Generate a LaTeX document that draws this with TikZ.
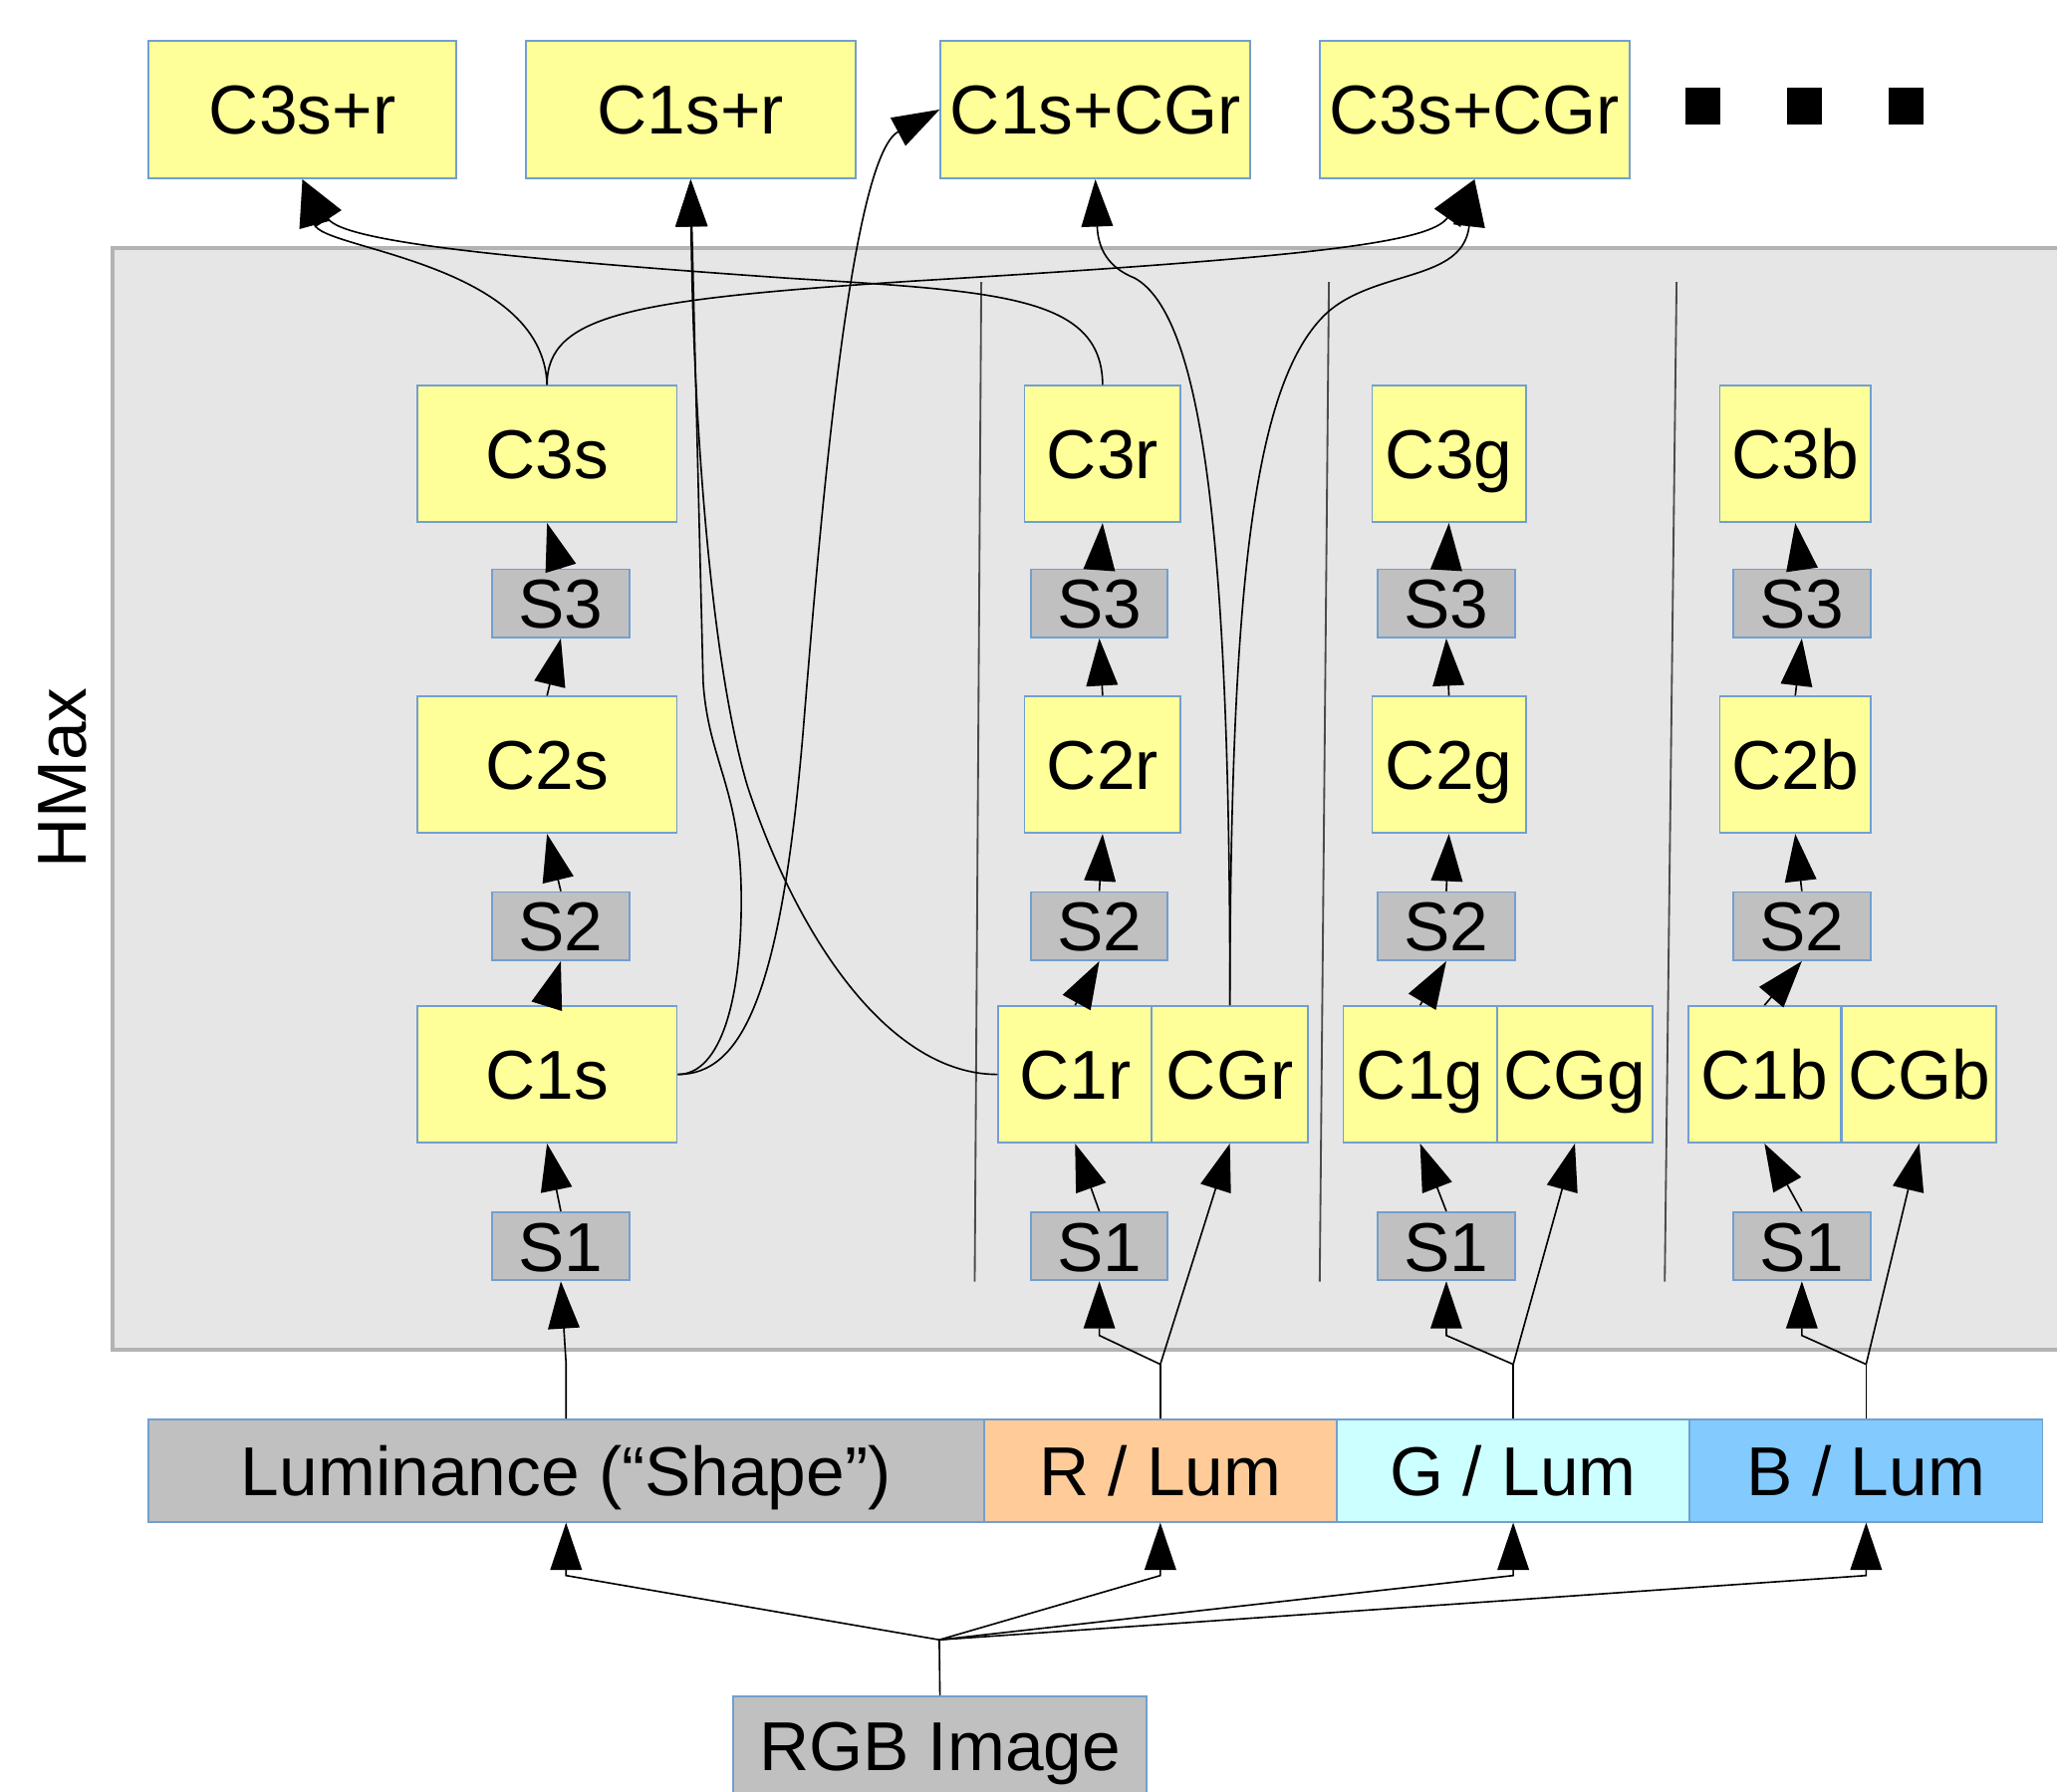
\documentclass[tikz,border=0pt]{standalone}
\usepackage{fontspec}
\setmainfont{Liberation Sans}
\usetikzlibrary{arrows.meta}

\definecolor{boxyellow}{HTML}{FFFF99}
\definecolor{boxgray}{HTML}{C0C0C0}
\definecolor{boxedge}{HTML}{729FCF}
\definecolor{panelfill}{HTML}{E6E6E6}
\definecolor{paneledge}{HTML}{B3B3B3}
\definecolor{lumR}{HTML}{FFCC99}
\definecolor{lumG}{HTML}{CCFFFF}
\definecolor{lumB}{HTML}{83CAFF}

\tikzset{
  lbl/.style={font=\fontsize{15}{18}\selectfont, text height=10.8pt, text depth=0pt},
  cbox/.style={draw=boxedge, line width=0.4pt, fill=boxyellow, inner sep=0pt, lbl},
  sbox/.style={draw=boxedge, line width=0.4pt, fill=boxgray, inner sep=0pt, lbl},
  link/.style={line width=0.35pt, -{Triangle[length=0.36cm,width=0.24cm]}},
  wire/.style={line width=0.35pt},
  divider/.style={line width=0.4pt, draw=black!70},
}

% box from (x1,y1) to (x2,y2): name, x1, y1, x2, y2, style, text
\newcommand\placebox[7]{%
  \node[#6, minimum width={(#4-#2)*0.01cm}, minimum height={(#5-#3)*0.01cm}]
    (#1) at ({(#2+#4)/2},{(#3+#5)/2}) {#7};}

\begin{document}
\begin{tikzpicture}[x=0.01cm, y=-0.01cm]
\useasboundingbox (0,0) rectangle (1568,1366);

% HMax panel
\draw[fill=panelfill, draw=paneledge, line width=0.8pt] (86,189) rectangle (1580,1029);
\node[lbl, rotate=90] (hmax) at (47,593) {HMax};

% channel separators
\draw[divider] (748,215) -- (743,977);
\draw[divider] (1013,215) -- (1006,977);
\draw[divider] (1278,215) -- (1269,977);

% combined outputs
\placebox{t1}{113}{31}{348}{136}{cbox}{C3s+r}
\placebox{t2}{401}{31}{652}{136}{cbox}{C1s+r}
\placebox{t3}{717}{31}{953}{136}{cbox}{C1s+CGr}
\placebox{t4}{1006}{31}{1242}{136}{cbox}{C3s+CGr}
\fill (1285,67) rectangle (1311,95);
\fill (1362,67) rectangle (1389,95);
\fill (1440,67) rectangle (1466,95);

% shape channel
\placebox{c3s}{318}{294}{516}{398}{cbox}{C3s}
\placebox{s3s}{375}{434}{480}{486}{sbox}{S3}
\placebox{c2s}{318}{531}{516}{635}{cbox}{C2s}
\placebox{s2s}{375}{680}{480}{732}{sbox}{S2}
\placebox{c1s}{318}{767}{516}{871}{cbox}{C1s}
\placebox{s1s}{375}{924}{480}{976}{sbox}{S1}

% red channel
\placebox{c3r}{781}{294}{900}{398}{cbox}{C3r}
\placebox{s3r}{786}{434}{890}{486}{sbox}{S3}
\placebox{c2r}{781}{531}{900}{635}{cbox}{C2r}
\placebox{s2r}{786}{680}{890}{732}{sbox}{S2}
\placebox{c1r}{761}{767}{878}{871}{cbox}{C1r}
\placebox{cgr}{878}{767}{997}{871}{cbox}{CGr}
\placebox{s1r}{786}{924}{890}{976}{sbox}{S1}

% green channel
\placebox{c3g}{1046}{294}{1163}{398}{cbox}{C3g}
\placebox{s3g}{1050}{434}{1155}{486}{sbox}{S3}
\placebox{c2g}{1046}{531}{1163}{635}{cbox}{C2g}
\placebox{s2g}{1050}{680}{1155}{732}{sbox}{S2}
\placebox{c1g}{1024}{767}{1141}{871}{cbox}{C1g}
\placebox{cgg}{1141}{767}{1260}{871}{cbox}{CGg}
\placebox{s1g}{1050}{924}{1155}{976}{sbox}{S1}

% blue channel
\placebox{c3b}{1311}{294}{1426}{398}{cbox}{C3b}
\placebox{s3b}{1321}{434}{1426}{486}{sbox}{S3}
\placebox{c2b}{1311}{531}{1426}{635}{cbox}{C2b}
\placebox{s2b}{1321}{680}{1426}{732}{sbox}{S2}
\placebox{c1b}{1287}{767}{1403}{871}{cbox}{C1b}
\placebox{cgb}{1404}{767}{1522}{871}{cbox}{CGb}
\placebox{s1b}{1321}{924}{1426}{976}{sbox}{S1}

% input maps
\placebox{lum}{113}{1082}{750}{1160}{sbox}{Luminance (“Shape”)}
\placebox{rl}{750}{1082}{1019}{1160}{sbox, fill=lumR}{R / Lum}
\placebox{gl}{1019}{1082}{1288}{1160}{sbox, fill=lumG}{G / Lum}
\placebox{bl}{1288}{1082}{1557}{1160}{sbox, fill=lumB}{B / Lum}
\placebox{rgb}{559}{1293}{874}{1369}{sbox}{RGB Image}

% image to input maps
\coordinate (fan) at (716,1250);
\coordinate (fanrow) at (0,1201);
\draw[wire] (rgb.north) -- (fan);
\foreach \m in {lum,rl,gl,bl}
  \draw[link] (fan) -- (\m.south |- fanrow) -- (\m.south);

% input maps to S1 and CG stages
\draw[link] (lum.north) -- ++(0,-42) -- (s1s.south);
\coordinate (rowsplit) at (0,1040);
\coordinate (rowbend) at (0,1018);
\foreach \m/\s/\g in {rl/s1r/cgr, gl/s1g/cgg, bl/s1b/cgb} {
  \coordinate (sp) at (\m.north |- rowsplit);
  \draw[wire] (\m.north) -- (sp);
  \draw[link] (sp) -- (\s.south |- rowbend) -- (\s.south);
  \draw[link] (sp) -- (\g.south);
}

% hierarchy within each channel
\foreach \c in {s,r,g,b} {
  \draw[link] (s1\c.north) -- (c1\c.south);
  \draw[link] (c1\c.north) -- (s2\c.south);
  \draw[link] (s2\c.north) -- (c2\c.south);
  \draw[link] (c2\c.north) -- (s3\c.south);
  \draw[link] (s3\c.north) -- (c3\c.south);
}

% combinations
\draw[link] (c3s.north) .. controls (414,200) and (245,190) .. (t1.south);
\draw[link] (c3r.north) .. controls (840,225) and (760,222) .. (600,212)
  .. controls (400,198) and (262,185) .. (t1.south);
\draw[link] (c3s.north) .. controls (417,240) and (480,228) .. (700,214)
  .. controls (1000,196) and (1090,185) .. (t4.south);
\draw[link] (cgr.north) .. controls (938,400) and (915,240) .. (865,212)
  .. controls (845,204) and (837,190) .. (t3.south);
\draw[link] (cgr.north) .. controls (938,450) and (955,290) .. (1012,238)
  .. controls (1050,205) and (1115,215) .. (t4.south);
\draw[link] (c1s.east) .. controls (550,819) and (566,760) .. (565,680)
  .. controls (564,600) and (540,580) .. (536,520) -- (t2.south);
\draw[link] (c1s.east) .. controls (565,819) and (595,760) .. (612,560)
  .. controls (625,400) and (648,120) .. (t3.west);
\draw[link] (c1r.west) .. controls (680,819) and (610,720) .. (570,600)
  .. controls (540,500) and (528,300) .. (t2.south);

\end{tikzpicture}
\end{document}
